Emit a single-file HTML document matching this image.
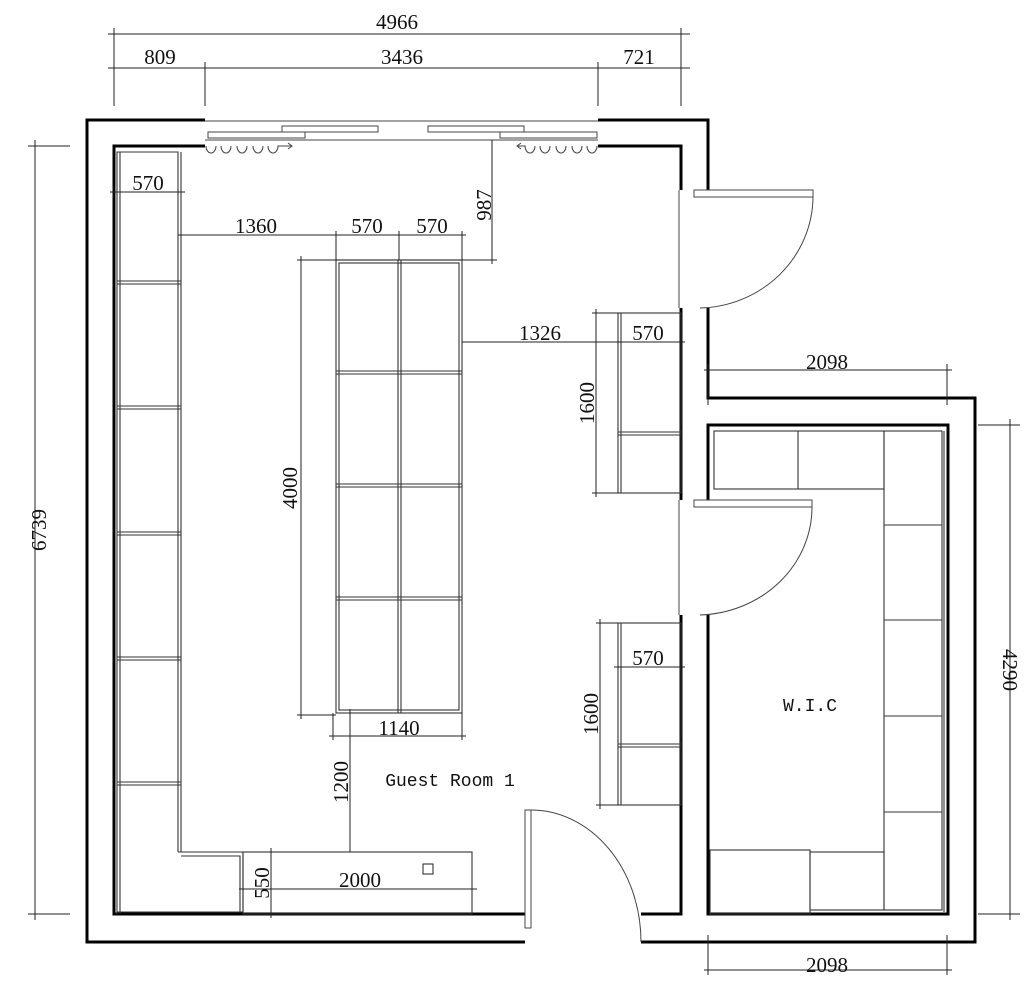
<!DOCTYPE html>
<html><head><meta charset="utf-8"><style>
html,body{margin:0;padding:0;background:#fff;}
svg{display:block}
</style></head><body>
<svg width="1024" height="1003" viewBox="0 0 1024 1003" xmlns="http://www.w3.org/2000/svg">
<g fill="none" stroke="#000">
<g stroke-width="3">
<polyline points="205,120 87,120 87,942 525,942"/>
<polyline points="205,146 114,146 114,914 525,914"/>
<polyline points="598,120 708,120 708,190"/>
<polyline points="598,146 681,146 681,190"/>
<polyline points="708,308 708,398 975,398 975,942 641,942"/>
<polyline points="681,308 681,500"/>
<polyline points="708,500 708,425 948,425 948,914 708,914 708,615"/>
<polyline points="681,615 681,914 641,914"/>
</g>
<g stroke-width="1" stroke="#444">
<line x1="679" y1="190" x2="679" y2="308"/>
<line x1="679" y1="500" x2="679" y2="615"/>
<line x1="205" y1="140" x2="598" y2="140"/>
<line x1="205" y1="121" x2="598" y2="121"/>
<rect x="282" y="126" width="96" height="6"/>
<rect x="208" y="132" width="97" height="6"/>
<rect x="428" y="126" width="96" height="6"/>
<rect x="500" y="132" width="97" height="6"/>
<path d="M206,146 a5,7 0 0 0 10,0 M221,146 a5,7 0 0 0 10,0 M237,146 a5,7 0 0 0 10,0 M253,146 a5,7 0 0 0 10,0 M268,146 a5,7 0 0 0 10,0 l14,0 m-4,-3 l4,3 l-4,3"/>
<path d="M597,146 a5,7 0 0 1 -10,0 M582,146 a5,7 0 0 1 -10,0 M566,146 a5,7 0 0 1 -10,0 M550,146 a5,7 0 0 1 -10,0 M535,146 a5,7 0 0 1 -10,0 l-8,0 m4,-3 l-4,3 l4,3"/>
<rect x="694" y="190" width="119" height="7"/>
<path d="M813,197 A116,112 0 0 1 700,308"/>
<rect x="694" y="500" width="118" height="7"/>
<path d="M812,507 A116,108 0 0 1 700,615"/>
<rect x="525" y="810" width="6" height="118"/>
<path d="M531,810 A110,132 0 0 1 641,942"/>
</g>
<g stroke-width="1.1" stroke="#333">
<path d="M117,914V152H178V852"/>
<line x1="120" y1="152" x2="120" y2="914"/>
<line x1="181" y1="152" x2="181" y2="852"/>
<path d="M117,281H181M117,284H181M117,406H181M117,409H181M117,532H181M117,535H181M117,657H181M117,660H181M117,782H181M117,785H181"/>
<polyline points="178,852 243,852 243,912 117,912"/>
<polyline points="181,856 240,856 240,912"/>
<rect x="336" y="260" width="126" height="453"/>
<rect x="339" y="263" width="120" height="447"/>
<line x1="398" y1="260" x2="398" y2="713"/><line x1="401" y1="260" x2="401" y2="713"/>
<path d="M336,371H462M336,374H462M336,484H462M336,487H462M336,597H462M336,600H462"/>
<rect x="618" y="313" width="63" height="180"/><line x1="621" y1="313" x2="621" y2="493"/>
<path d="M618,432H681M618,435H681"/>
<rect x="618" y="623" width="63" height="182"/><line x1="621" y1="623" x2="621" y2="805"/>
<path d="M618,744H681M618,747H681"/>
<rect x="243" y="852" width="229" height="62"/>
<rect x="423" y="864" width="10" height="10"/>
<rect x="714" y="431" width="170" height="58"/><line x1="798" y1="431" x2="798" y2="489"/>
<rect x="884" y="431" width="58" height="479"/><line x1="944" y1="431" x2="944" y2="912"/>
<line x1="884" y1="525" x2="942" y2="525"/><line x1="884" y1="620" x2="942" y2="620"/><line x1="884" y1="716" x2="942" y2="716"/><line x1="884" y1="812" x2="942" y2="812"/>
<rect x="710" y="850" width="100" height="64"/>
<rect x="810" y="852" width="74" height="58"/>
</g>
<g stroke-width="1" stroke="#222">
<line x1="108" y1="34" x2="690" y2="34"/>
<line x1="108" y1="68" x2="690" y2="68"/>
<line x1="114" y1="28" x2="114" y2="106"/><line x1="205" y1="62" x2="205" y2="106"/><line x1="598" y1="62" x2="598" y2="106"/><line x1="681" y1="28" x2="681" y2="106"/>
<line x1="35" y1="140" x2="35" y2="920"/><line x1="28" y1="146" x2="70" y2="146"/><line x1="28" y1="914" x2="70" y2="914"/>
<line x1="1010" y1="419" x2="1010" y2="920"/><line x1="978" y1="425" x2="1020" y2="425"/><line x1="978" y1="914" x2="1020" y2="914"/>
<line x1="704" y1="370" x2="952" y2="370"/><line x1="947" y1="364" x2="947" y2="405"/><line x1="708" y1="364" x2="708" y2="405"/>
<line x1="704" y1="970" x2="952" y2="970"/><line x1="708" y1="935" x2="708" y2="975"/><line x1="947" y1="935" x2="947" y2="975"/>
<line x1="110" y1="192" x2="185" y2="192"/>
<line x1="178" y1="235" x2="466" y2="235"/><line x1="336" y1="231" x2="336" y2="260"/><line x1="399" y1="231" x2="399" y2="260"/><line x1="462" y1="231" x2="462" y2="260"/>
<line x1="492" y1="140" x2="492" y2="264"/><line x1="297" y1="260" x2="497" y2="260"/>
<line x1="301" y1="256" x2="301" y2="719"/><line x1="297" y1="715" x2="336" y2="715"/>
<line x1="329" y1="736" x2="466" y2="736"/><line x1="333" y1="713" x2="333" y2="740"/><line x1="462" y1="713" x2="462" y2="740"/>
<line x1="350" y1="709" x2="350" y2="852"/>
<line x1="462" y1="342" x2="685" y2="342"/>
<line x1="596" y1="309" x2="596" y2="497"/><line x1="592" y1="313" x2="618" y2="313"/><line x1="592" y1="493" x2="618" y2="493"/>
<line x1="614" y1="667" x2="685" y2="667"/>
<line x1="600" y1="619" x2="600" y2="809"/><line x1="596" y1="623" x2="618" y2="623"/><line x1="596" y1="805" x2="618" y2="805"/>
<line x1="239" y1="889" x2="477" y2="889"/>
<line x1="271" y1="848" x2="271" y2="918"/>
</g>
</g>
<g font-family="Liberation Serif, serif" font-size="21" font-weight="normal" fill="#111" stroke="none">
<text x="397" y="29" text-anchor="middle">4966</text>
<text x="160" y="64" text-anchor="middle">809</text>
<text x="402" y="64" text-anchor="middle">3436</text>
<text x="639" y="64" text-anchor="middle">721</text>
<text x="148" y="190" text-anchor="middle">570</text>
<text x="256" y="233" text-anchor="middle">1360</text>
<text x="367" y="233" text-anchor="middle">570</text>
<text x="432" y="233" text-anchor="middle">570</text>
<text x="540" y="340" text-anchor="middle">1326</text>
<text x="648" y="340" text-anchor="middle">570</text>
<text x="648" y="665" text-anchor="middle">570</text>
<text x="399" y="735" text-anchor="middle">1140</text>
<text x="827" y="369" text-anchor="middle">2098</text>
<text x="827" y="972" text-anchor="middle">2098</text>
<text x="360" y="887" text-anchor="middle">2000</text>
<text transform="translate(491,205) rotate(-90)" text-anchor="middle">987</text>
<text transform="translate(297,488) rotate(-90)" text-anchor="middle">4000</text>
<text transform="translate(594,403) rotate(-90)" text-anchor="middle">1600</text>
<text transform="translate(598,714) rotate(-90)" text-anchor="middle">1600</text>
<text transform="translate(348,782) rotate(-90)" text-anchor="middle">1200</text>
<text transform="translate(269,883) rotate(-90)" text-anchor="middle">550</text>
<text transform="translate(46,530) rotate(-90)" text-anchor="middle">6739</text>
<text transform="translate(1003,670) rotate(90)" text-anchor="middle">4290</text>
</g>
<g font-family="Liberation Mono, monospace" font-size="18" fill="#111">
<text x="450" y="786" text-anchor="middle">Guest Room 1</text>
<text x="810" y="711" text-anchor="middle">W.I.C</text>
</g>
</svg>
</body></html>
